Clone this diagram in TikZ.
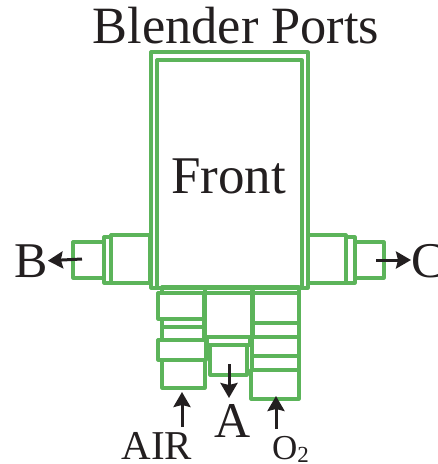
\documentclass[tikz,border=0pt]{standalone}
\usepackage{fontspec}
\setmainfont{Liberation Serif}
\usepackage{xcolor}
\usepackage{tikz}
\usetikzlibrary{arrows.meta}
\definecolor{portgreen}{HTML}{5CB45A}
\definecolor{labelblack}{HTML}{231F20}
\tikzstyle{port} = [draw=portgreen, line width=3.2pt, line join=round]
\tikzstyle{tag} = [anchor=base, inner sep=0pt, text=labelblack]
\tikzstyle{arrow} = [draw=labelblack, line width=3pt, -{Stealth[length=15pt,width=17pt,inset=2pt]}]

\begin{document}
\begin{tikzpicture}[x=1pt, y=-1pt]
		\useasboundingbox (0,0) rectangle (438,464);
		% front body
		\draw[port] (151,52) rectangle (308,288);
		\draw[port] (157,60) rectangle (302,288);
		% left port
		\draw[port] (111,235) rectangle (150,283);
		\draw[port] (104,237) rectangle (111,283);
		\draw[port] (73,242) rectangle (104,278);
		% right port
		\draw[port] (308,235) rectangle (346,283);
		\draw[port] (346,237) rectangle (355,283);
		\draw[port] (355,242) rectangle (384,278);
		% air column
		\draw[port] (162,287) rectangle (205,293);
		\draw[port] (158,293) rectangle (204,319);
		\draw[port] (162,319) rectangle (204,327);
		\draw[port] (162,327) rectangle (204,340);
		\draw[port] (158,340) rectangle (206,360);
		\draw[port] (162,360) rectangle (205,388);
		% middle column
		\draw[port] (205,287) rectangle (252,293);
		\draw[port] (205,293) rectangle (252,337);
		\draw[port] (207,337) rectangle (250,345);
		\draw[port] (210,345) rectangle (247,375);
		% oxygen column
		\draw[port] (253,287) rectangle (299,293);
		\draw[port] (253,293) rectangle (299,323);
		\draw[port] (253,323) rectangle (299,337);
		\draw[port] (252,337) rectangle (299,356);
		\draw[port] (252,356) rectangle (299,370);
		\draw[port] (251,370) rectangle (299,399);
		% labels
		\node[tag, font=\fontsize{52.4}{52}\selectfont] (title) at (236,43) {Blender Ports};
		\node[tag, font=\fontsize{53}{53}\selectfont] (front) at (228.5,193) {Front};
		\node[tag, font=\fontsize{50}{50}\selectfont] (b) at (31,277) {B};
		\node[tag, font=\fontsize{50}{50}\selectfont, anchor=base west] (c) at (411,277) {C};
		\node[tag, font=\fontsize{50}{50}\selectfont] (a) at (233,437) {A};
		\node[tag, font=\fontsize{41}{41}\selectfont] (air) at (157,459) {AIR};
		\node[tag, font=\fontsize{35}{35}\selectfont] (o2) at (290.5,459) {O\raisebox{-0.1em}{\fontsize{23}{23}\selectfont 2}};
		% flow arrows
		\coordinate (bstart) at (82,259);
		\coordinate (cstart) at (376,260);
		\coordinate (astart) at (229,364);
		\coordinate (airstart) at (182,427);
		\coordinate (o2start) at (276,429);
		\draw[arrow] (bstart) -- (b.east);
		\draw[arrow] (cstart) -- (c.west |- cstart);
		\draw[arrow] (astart) -- (229,398);
		\draw[arrow] (airstart) -- (182,392);
		\draw[arrow] (o2start) -- (276,396);
	\end{tikzpicture}
\end{document}
